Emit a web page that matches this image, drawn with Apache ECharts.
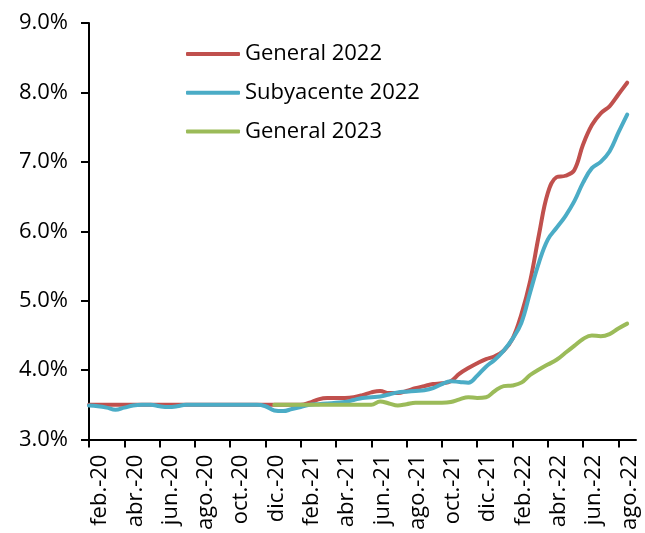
<!DOCTYPE html>
<html>
<head>
<meta charset="utf-8">
<script src="https://cdn.jsdelivr.net/npm/echarts@6/dist/echarts.min.js"></script>
<style>
html,body{margin:0;padding:0;background:#fff;}
#chart{width:645px;height:533px;}
</style>
</head>
<body>
<div id="chart"></div>
<script>
// Month labels (Feb 2020 .. Aug 2022); data are semi-monthly (two per month)
const months = ['feb.-20','mar.-20','abr.-20','may.-20','jun.-20','jul.-20','ago.-20','sep.-20','oct.-20','nov.-20','dic.-20','ene.-21',
  'feb.-21','mar.-21','abr.-21','may.-21','jun.-21','jul.-21','ago.-21','sep.-21','oct.-21','nov.-21','dic.-21','ene.-22',
  'feb.-22','mar.-22','abr.-22','may.-22','jun.-22','jul.-22','ago.-22'];
const endLabel = 'sep.-22';

const general2022 = [3.50,3.50,3.50,3.50,3.50,3.50,3.50,3.50,3.50,3.50,3.50,3.50,3.50,3.50,3.50,3.50,3.50,3.50,3.50,3.50,3.50,3.50,3.50,3.50,
  3.50,3.53,3.58,3.60,3.60,3.60,3.61,3.64,3.68,3.70,3.67,3.67,3.70,3.74,3.77,3.80,3.81,3.84,3.95,4.03,4.10,4.16,4.20,4.28,
  4.45,4.80,5.28,5.95,6.55,6.78,6.80,6.88,7.25,7.53,7.70,7.80,7.97,8.14];
const subyacente2022 = [3.49,3.48,3.46,3.43,3.46,3.49,3.50,3.50,3.48,3.47,3.48,3.50,3.50,3.50,3.50,3.50,3.50,3.50,3.50,3.50,3.48,3.42,3.41,3.44,
  3.47,3.50,3.51,3.52,3.53,3.54,3.57,3.60,3.61,3.62,3.65,3.68,3.69,3.70,3.71,3.74,3.80,3.84,3.83,3.82,3.92,4.05,4.15,4.28,
  4.45,4.68,5.12,5.55,5.88,6.05,6.22,6.43,6.70,6.91,7.00,7.15,7.42,7.68];
const general2023 = [null,null,null,null,null,null,null,null,null,null,null,null,null,null,null,null,null,null,null,null,null,
  3.50,3.50,3.50,3.50,3.50,3.50,3.50,3.50,3.50,3.50,3.50,3.50,
  3.55,3.52,3.49,3.51,3.53,3.53,3.53,3.53,3.54,3.58,3.61,3.60,3.61,3.70,3.77,3.78,3.82,3.93,4.01,4.08,4.15,4.25,4.35,4.45,4.50,4.49,4.52,4.60,4.67];

const yTicks = [3,4,5,6,7,8,9];

const categories = [];
months.forEach(m => { categories.push(m + '|1'); categories.push(m + '|2'); });
categories.push(endLabel + '|1');

const pad = arr => arr.concat([null]);

const FONT = 'Open Sans';
const chart = echarts.init(document.getElementById('chart'));
chart.setOption({
  animation: false,
  backgroundColor: '#ffffff',
  grid: { left: 89, right: 9, top: 23, bottom: 93, containLabel: false },
  legend: {
    orient: 'vertical',
    left: 186,
    top: 41,
    padding: 0,
    itemWidth: 54,
    itemHeight: 4,
    itemGap: 12.7,
    icon: 'roundRect',
    textStyle: { fontFamily: FONT, fontSize: 22, color: '#000', lineHeight: 26 },
    data: ['General 2022', 'Subyacente 2022', 'General 2023']
  },
  xAxis: {
    type: 'category',
    boundaryGap: false,
    data: categories,
    axisLine: { lineStyle: { color: '#000', width: 2 } },
    axisTick: { show: true, interval: 3, length: 8, lineStyle: { color: '#000', width: 2 } },
    axisLabel: {
      interval: 3,
      rotate: 90,
      margin: 15,
      verticalAlign: 'top',
      fontFamily: FONT,
      fontSize: 22,
      color: '#000',
      formatter: v => v.split('|')[0]
    },
    splitLine: { show: false }
  },
  yAxis: {
    type: 'value',
    min: yTicks[0],
    max: yTicks[yTicks.length - 1],
    interval: 1,
    axisLine: { show: true, lineStyle: { color: '#000', width: 2 } },
    axisTick: { show: true, length: 8, lineStyle: { color: '#000', width: 2 } },
    axisLabel: {
      margin: 21,
      fontFamily: FONT,
      fontSize: 22,
      color: '#000',
      formatter: v => v.toFixed(1) + '%'
    },
    splitLine: { show: false }
  },
  series: [
    { name: 'General 2022', type: 'line', data: pad(general2022), smooth: 0.4, symbol: 'none',
      lineStyle: { color: '#C0504D', width: 4, cap: 'round' }, itemStyle: { color: '#C0504D' } },
    { name: 'Subyacente 2022', type: 'line', data: pad(subyacente2022), smooth: 0.4, symbol: 'none',
      lineStyle: { color: '#4BACC6', width: 4, cap: 'round' }, itemStyle: { color: '#4BACC6' } },
    { name: 'General 2023', type: 'line', data: pad(general2023), smooth: 0.4, symbol: 'none',
      lineStyle: { color: '#9BBB59', width: 4, cap: 'round' }, itemStyle: { color: '#9BBB59' } }
  ]
});
</script>
</body>
</html>
